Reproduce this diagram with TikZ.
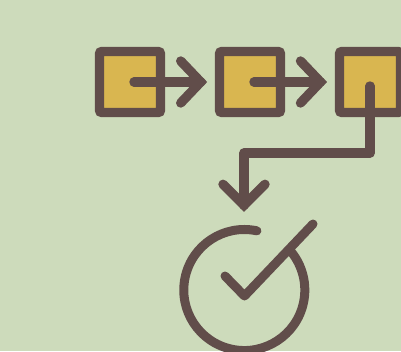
\documentclass[tikz,border=0pt]{standalone}
\usepackage{tikz}
\usetikzlibrary{calc}
\definecolor{sage}{RGB}{205,219,187}
\definecolor{umber}{RGB}{97,77,74}
\definecolor{mustard}{RGB}{217,182,80}
\tikzset{
  stepbox/.style={draw=umber,fill=mustard,line width=0.2325cm,rounded corners=0.05cm,minimum size=1.52cm,inner sep=0pt,outer sep=0pt},
  flowline/.style={draw=umber,line width=0.235cm,line cap=round,line join=round},
  headline/.style={flowline,line join=miter},
  markline/.style={flowline,line width=0.225cm}
}
\begin{document}
\begin{tikzpicture}[x=0.025cm,y=-0.025cm]
\useasboundingbox (0,0) rectangle (401,351);
\clip (0,0) rectangle (401,351);
\fill[sage] (0,0) rectangle (401,351);
\node[stepbox] (boxa) at (130,82) {};
\node[stepbox] (boxb) at (250,82) {};
\node[stepbox] (boxc) at (370,82) {};
\coordinate (starta) at (134,82);
\coordinate (startb) at (254,82);
\coordinate (startc) at (370,86);
\coordinate (tipa) at (200.7,82);
\coordinate (tipb) at (320.5,82);
\coordinate (tipc) at (244,205.3);
\coordinate (bend) at (244,153);
\draw[flowline] (starta) -- (tipa);
\draw[flowline] (startb) -- (tipb);
\draw[flowline] (startc) |- (bend) -- (tipc);
\foreach \tip in {tipa,tipb}
  \draw[headline] ($(\tip)+(-20,-21)$) -- (\tip) -- ($(\tip)+(-20,21)$);
\draw[headline] ($(tipc)+(-21,-21)$) -- (tipc) -- ($(tipc)+(21,-21)$);
% circle and check
\coordinate (ring) at (244.3,290);
\draw[markline] ($(ring)+(78:60.5 and -60.5)$) arc[start angle=78,end angle=400,radius=1.5125cm];
\draw[markline] (225,276) -- (244.5,296) -- (313,224);
\end{tikzpicture}
\end{document}
